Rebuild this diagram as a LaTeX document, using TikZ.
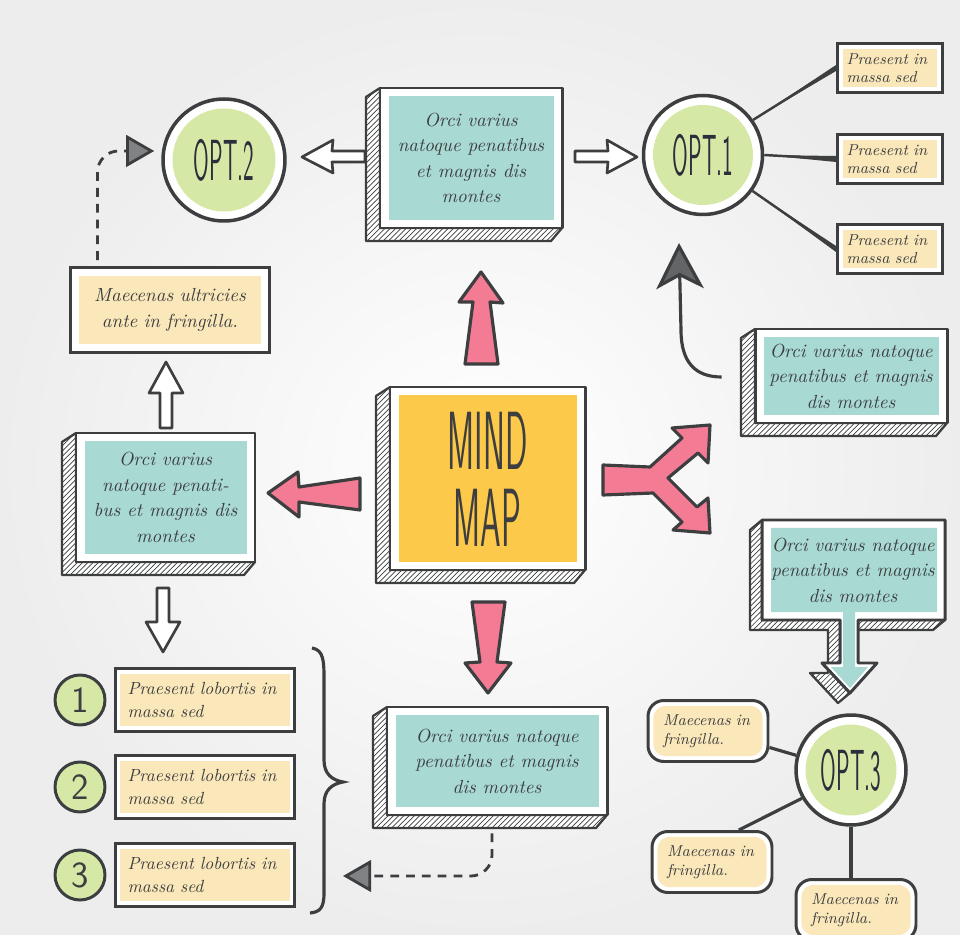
\documentclass[tikz,border=0pt]{standalone}
\usepackage{graphicx}
\usetikzlibrary{calc,patterns,arrows.meta}

\definecolor{ink}{HTML}{3C3E40}
\definecolor{navy}{HTML}{2B2E3B}
\definecolor{tealbox}{HTML}{A9D9D3}
\definecolor{pale}{HTML}{FBE8BA}
\definecolor{leaf}{HTML}{D6E8A6}
\definecolor{sun}{HTML}{FCC94A}
\definecolor{rose}{HTML}{F47B94}

\tikzset{
  frame/.style={draw=ink, line width=1.7pt, line join=round, fill=white},
  slab/.style={draw=ink, line width=1.3pt, line join=round, preaction={fill=white},
    pattern=north east lines, pattern color=ink},
  boxtext/.style={inner sep=0pt, align=center, text=ink, font=\fontsize{10.8}{14.5}\selectfont\itshape},
  notebox/.style={draw=ink, line width=1.7pt, fill=white, inner ysep=0pt, text=ink, align=left,
    path picture={\fill[pale] ([shift={(#1pt,-#1pt)}]path picture bounding box.north west)
      rectangle ([shift={(-#1pt,#1pt)}]path picture bounding box.south east);}},
  notebox/.default=3,
  roundbox/.style={draw=ink, line width=1.7pt, fill=white, rounded corners=9pt, inner xsep=0.3cm,
    inner ysep=0pt, text width=1.8cm, minimum height=1.22cm, align=left, text=ink,
    font=\fontsize{9}{11}\selectfont\itshape,
    path picture={\fill[pale, rounded corners=7pt] ([shift={(3pt,-3pt)}]path picture bounding box.north west)
      rectangle ([shift={(-3pt,3pt)}]path picture bounding box.south east);}},
  optring/.style={circle, draw=ink, line width=2pt, fill=white, minimum size=#1 cm, inner sep=0pt,
    text=navy, font=\sffamily\fontsize{33}{33}\selectfont,
    path picture={\fill[leaf] (path picture bounding box.center) circle[radius={#1*0.5cm-0.19cm}];}},
  numdot/.style={circle, draw=ink, line width=1.7pt, fill=leaf, minimum size=1cm, inner sep=0pt,
    text=ink, font=\sffamily\fontsize{21}{21}\selectfont},
  hollow/.style={draw=ink, fill=white, line width=1.5pt, line join=round},
  pinkarrow/.style={draw=ink, fill=rose, line width=1.8pt, line join=round},
  dashlink/.style={draw=ink, line width=1.6pt, dash pattern=on 5pt off 4pt, rounded corners=12pt,
    -{Triangle[length=16pt, width=18pt, fill=ink!65]}},
  stick/.style={draw=ink, line width=1.8pt}
}

% box with a hatched side: [name,colour](x1,y1)(x2,y2){text}
\def\slabbox[#1,#2](#3,#4)(#5,#6)#7{%
  \filldraw[slab] (#3,#4) -- (#3-14,#4+9) -- (#3-14,#6+13) -- (#5-11,#6+13) -- (#5,#6) -- (#3,#6) -- cycle;
  \filldraw[frame] (#3,#4) rectangle (#5,#6);
  \fill[#2] (#3+9,#4+8) rectangle (#5-8,#6-8);
  \node[boxtext, minimum width={(#5-#3)*0.02cm}, minimum height={(#6-#4)*0.02cm}] (#1)
    at ({(#3+#5)/2},{(#4+#6)/2}) {#7};}
\def\spoke(#1)(#2){\fill[ink] (#1) -- ($(#2)+(0,-3)$) -- ($(#2)+(0,3)$) -- cycle;
  \draw[ink, line width=1.4pt] (#1) -- (#2);}

\begin{document}
\begin{tikzpicture}[x=0.02cm, y=-0.02cm]
  \useasboundingbox (0,0) rectangle (960,935);
  \clip (0,0) rectangle (960,935);
  \shade[inner color=white, outer color=black!7] (0,0) rectangle (960,935);

  %%%%% boxes %%%%%
  \slabbox[topbox,tealbox](380,88)(562,228){Orci varius\\natoque penatibus\\et magnis dis\\montes}
  \slabbox[lbox,tealbox](76,433)(255,562){Orci varius\\natoque penati-\\bus et magnis dis\\montes}
  \slabbox[rbox,tealbox](755,329)(947,423){Orci varius natoque\\penatibus et magnis\\dis montes}
  \slabbox[bbox,tealbox](387,707)(607,815){Orci varius natoque\\penatibus et magnis\\dis montes}
  \slabbox[mind,sun](390,387)(585,570){}
  \node[text=ink, inner sep=0pt] (mindword) at ($(mind.center)+(0,11)$)
    {\scalebox{0.4}[1]{\sffamily\fontsize{47}{44}\selectfont\renewcommand\arraystretch{0.85}%
    \begin{tabular}{@{}c@{}}MIND\\MAP\end{tabular}}};

  % box with an arrow below
  \filldraw[slab] (762,520) -- (750,530) -- (750,630) -- (828,630) -- (828,673) -- (810,673) -- (838,703)
    -- (850,693) -- (822,663) -- (840,663) -- (840,620) -- (762,620) -- cycle;
  \filldraw[slab] (858,620) -- (846,630) -- (933,630) -- (945,620) -- cycle;
  \filldraw[frame] (762,520) -- (945,520) -- (945,620) -- (858,620) -- (858,663) -- (877,663) -- (850,693)
    -- (822,663) -- (840,663) -- (840,620) -- (762,620) -- cycle;
  \fill[tealbox] (771,528) -- (937,528) -- (937,612) -- (855,612) -- (855,667) -- (868,667) -- (850,688)
    -- (831,667) -- (843,667) -- (843,612) -- (771,612) -- cycle;
  \node[boxtext] (cbox) at (853,570) {Orci varius natoque\\penatibus et magnis\\dis montes};

  %%%%% options %%%%%
  \node[optring=2.44] (opt2) at (224,160) {\scalebox{0.39}[1]{OPT.2}};
  \node[optring=2.38] (opt1) at (703,155) {\scalebox{0.39}[1]{OPT.1}};
  \node[optring=2.2] (opt3) at (851,770) {\scalebox{0.39}[1]{OPT.3}};

  \node[notebox, text width=1.74cm, inner xsep=0.18cm, minimum height=0.98cm,
    font=\fontsize{9}{10.5}\selectfont\itshape] (p1) at (890,68) {Praesent in\\massa sed};
  \node[notebox, text width=1.74cm, inner xsep=0.18cm, minimum height=0.98cm,
    font=\fontsize{9}{10.5}\selectfont\itshape] (p2) at (890,159) {Praesent in\\massa sed};
  \node[notebox, text width=1.74cm, inner xsep=0.18cm, minimum height=0.98cm,
    font=\fontsize{9}{10.5}\selectfont\itshape] (p3) at (890,249) {Praesent in\\massa sed};
  \spoke(opt1.35)(p1.west)
  \spoke(opt1.east)(p2.west)
  \spoke(opt1.-36)(p3.west)

  \node[notebox=5, text width=3.6cm, inner xsep=0.2cm, minimum height=1.7cm, align=center,
    font=\fontsize{10.8}{15}\selectfont\itshape] (ybox) at (170,310) {Maecenas ultricies\\ante in fringilla.};

  \foreach \n/\y in {1/700,2/787,3/875}{
    \node[numdot] (n\n) at (80,\y) {\n};
    \node[notebox, text width=3.1cm, inner xsep=0.25cm, minimum height=1.26cm,
      font=\fontsize{10}{13}\selectfont\itshape] (q\n) at (205,\y) {Praesent lobortis in\\massa sed};
  }

  \node[roundbox] (mA) at (708,731) {Maecenas in\\fringilla.};
  \node[roundbox] (mB) at (712,862) {Maecenas in\\fringilla.};
  \node[roundbox] (mC) at (856,910) {Maecenas in\\fringilla.};
  \draw[stick] (mA.-15) -- (opt3.165);
  \draw[stick] (mB.50) -- (opt3.210);
  \draw[stick] (opt3.south) -- (opt3.south |- mC.north);

  %%%%% arrows %%%%%
  \filldraw[hollow] (365,151) -- (332,151) -- (333,140) -- (302,157) -- (333,173) -- (332,162) -- (365,162) -- cycle;
  \filldraw[hollow] (575,151) -- (608,151) -- (607,140) -- (637,157) -- (607,173) -- (608,162) -- (575,162) -- cycle;
  \filldraw[hollow] (160,428) -- (160,393) -- (149,393) -- (166,362) -- (183,393) -- (172,393) -- (172,428) -- cycle;
  \filldraw[hollow] (157,588) -- (157,622) -- (146,622) -- (163,652) -- (180,622) -- (169,622) -- (169,588) -- cycle;

  \filldraw[pinkarrow] (465,364) -- (473,302) -- (459,302) -- (481,272) -- (503,303) -- (490,302) -- (498,364) -- cycle;
  \filldraw[pinkarrow] (360,478) -- (299,487) -- (298,472) -- (268,493) -- (299,517) -- (299,502) -- (360,510) -- cycle;
  \filldraw[pinkarrow] (472,602) -- (480,662) -- (465,663) -- (488,693) -- (511,663) -- (497,662) -- (505,602) -- cycle;
  \filldraw[pinkarrow] (603,465) -- (650,467) -- (682,438) -- (672,428) -- (710,425) -- (708,463) -- (698,453)
    -- (668,478) -- (697,507) -- (708,498) -- (710,533) -- (673,530) -- (682,522) -- (653,493) -- (603,495) -- cycle;

  \coordinate (up1) at (679,243);
  \draw[ink, line width=1.8pt, -{Stealth[length=26pt, width=27pt, inset=7pt, fill=ink!80]}]
    ($(rbox.west)+(-33,1)$) .. controls (695,377) and (681,362) .. (681,330) -- (up1);

  \coordinate (o2in) at ($(opt2.west)+(-7,-9)$);
  \draw[dashlink] ($(ybox.north west)+(29,-6)$) |- (o2in);
  \coordinate (back) at (343,876);
  \draw[dashlink] ($(bbox.south)+(-5,18)$) |- (back);

  % brace
  \draw[ink, line width=1.8pt] (312,648) .. controls (324,650) and (324,662) .. (324,680) -- (324,760)
    .. controls (324,774) and (332,780) .. (343,782) .. controls (332,784) and (324,790) .. (324,804)
    -- (324,893) .. controls (324,908) and (320,912) .. (310,913);
\end{tikzpicture}
\end{document}
